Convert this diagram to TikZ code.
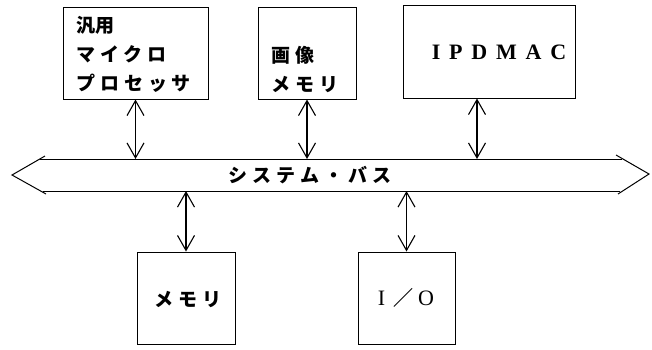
\documentclass[tikz,border=0pt]{standalone}
\usepackage{fontspec}
\usetikzlibrary{arrows.meta}
\newfontfamily\jpfont[LetterSpace=26]{Noto Sans CJK JP}
\newfontfamily\jpplain{Noto Sans CJK JP}
\newfontfamily\latfont[LetterSpace=40]{Liberation Serif}
\newfontfamily\latplain{Liberation Serif}
\tikzset{
  box/.style={draw, line width=1pt, inner sep=0pt},
  jtext/.style={inner sep=0pt, align=left, font=\jpfont\bfseries\fontsize{19}{29}\selectfont},
  busline/.style={line width=1pt, line join=miter},
  dbl/.style={line width=1.1pt, {Straight Barb[length=15pt,width=17pt]}-{Straight Barb[length=15pt,width=17pt]}}
}
\begin{document}
\begin{tikzpicture}[x=1pt,y=-1pt]
\useasboundingbox (0,0) rectangle (652,349);
% boxes
\node[box, minimum width=145pt, minimum height=92pt] (cpu) at (135.5,53) {};
\node[box, minimum width=98pt, minimum height=92pt] (vram) at (307,53) {};
\node[box, minimum width=172pt, minimum height=93pt] (ipd) at (489,51.5) {};
\node[box, minimum width=98pt, minimum height=92pt] (mem) at (186,298) {};
\node[box, minimum width=97pt, minimum height=92pt] (io) at (406.5,298) {};
% texts
\node[jtext, anchor=west] (cputxt) at (76,54) {{\jpplain 汎用}\\マイクロ\\プロセッサ};
\node[jtext, anchor=west] (vramtxt) at (271,69) {画像\\メモリ};
\node[inner sep=0pt, font=\latfont\bfseries\fontsize{22}{25}\selectfont] (ipdtxt) at (499,52) {IPDMAC};
\node[jtext] (memtxt) at (188,299) {メモリ};
\node[inner sep=0pt] (iotxt) at (406,298) {{\latplain\fontsize{22}{24}\selectfont I}\hspace{8pt}{\jpplain\bfseries\fontsize{20}{24}\selectfont ／}\hspace{5pt}{\latplain\fontsize{22}{24}\selectfont O}};
% bus
\coordinate (bl) at (12,175);
\coordinate (br) at (649,174);
\draw[busline] (40,159) -- (622,159);
\draw[busline] (43,191) -- (620,191);
\draw[busline] (45,156) -- (bl) -- (46,194);
\draw[busline] (616,155) -- (br) -- (618,194);
\node[jtext] (bustxt) at (310,175) {システム・バス};
% connection points on bus
\coordinate (t1) at (135.5,159);
\coordinate (t2) at (307,159);
\coordinate (t3) at (477,159);
\coordinate (b1) at (186,191);
\coordinate (b2) at (406.5,191);
\draw[dbl] (cpu.south) -- (t1);
\draw[dbl] (vram.south) -- (t2);
\draw[dbl] (t3 |- ipd.south) -- (t3);
\draw[dbl] (b1) -- (mem.north);
\draw[dbl] (b2) -- (io.north);
\end{tikzpicture}
\end{document}
